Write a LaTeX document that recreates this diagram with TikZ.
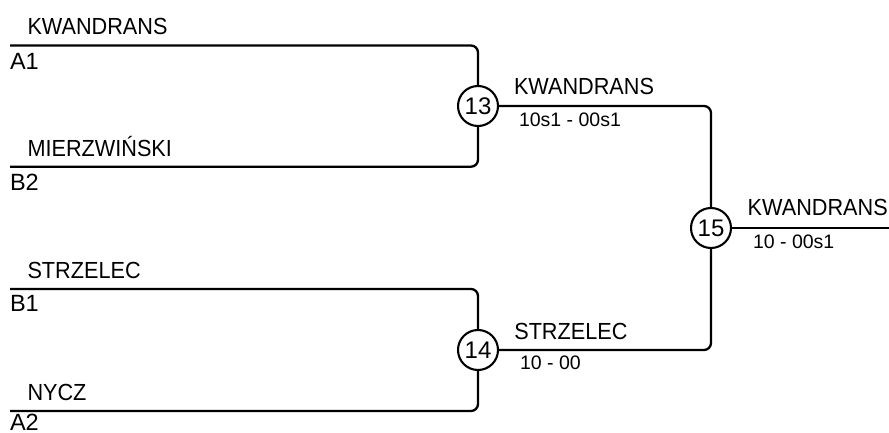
\documentclass[tikz,border=0pt]{standalone}
\usepackage{fontspec}
\setmainfont{Liberation Sans}
\newfontfamily\namefont[FakeStretch=0.93]{Liberation Sans}
\usepackage{tikz}
\usetikzlibrary{positioning}

\begin{document}
\begin{tikzpicture}[x=1pt,y=-1pt,every node/.style={inner sep=0pt,outer sep=0pt},line/.style={line width=2.3pt,rounded corners=7pt},match/.style={draw,circle,line width=2.1pt,minimum size=40pt,font=\fontsize{24}{28}\selectfont},player/.style={anchor=base west,font=\namefont\fontsize{23.3}{28}\selectfont},seed/.style={anchor=base west,font=\fontsize{23.5}{28}\selectfont},score/.style={anchor=base west,font=\fontsize{19.5}{24}\selectfont}]
\useasboundingbox (0,0) rectangle (889,433);
\coordinate (a1) at (10,45.5); \coordinate (b2) at (10,166.7); \coordinate (b1) at (10,289); \coordinate (a2) at (10,411); \coordinate (win) at (889,228);
\node[match] (m13) at (478,106) {13};
\node[match] (m14) at (478,350) {14};
\node[match] (m15) at (711,228) {15};
% first round
\node[player] (pa1) at (27.5,35) {KWANDRANS}; \node[seed] (sa1) at (10,69.3) {A1};
\node[player] (pb2) at (27.5,156.7) {MIERZWIŃSKI}; \node[seed] (sb2) at (10,190.7) {B2};
\node[player] (pb1) at (27.5,278.3) {STRZELEC}; \node[seed] (sb1) at (10,311.7) {B1};
\node[player] (pa2) at (27.5,400) {NYCZ}; \node[seed] (sa2) at (10,430.6) {A2};
\draw[line] (a1) -| (m13); \draw[line] (b2) -| (m13);
\draw[line] (b1) -| (m14); \draw[line] (a2) -| (m14);
% final
\draw[line] (m13) -| (m15); \draw[line] (m14) -| (m15); \draw[line] (m15) -- (win);
\node[player] (w13) at (514,95) {KWANDRANS}; \node[score] (r13) at (519,126.7) {10s1 - 00s1};
\node[player] (w14) at (514.3,339) {STRZELEC}; \node[score] (r14) at (520,369.3) {10 - 00};
\node[player] (w15) at (747.7,215) {KWANDRANS}; \node[score] (r15) at (753,248) {10 - 00s1};
\end{tikzpicture}
\end{document}
